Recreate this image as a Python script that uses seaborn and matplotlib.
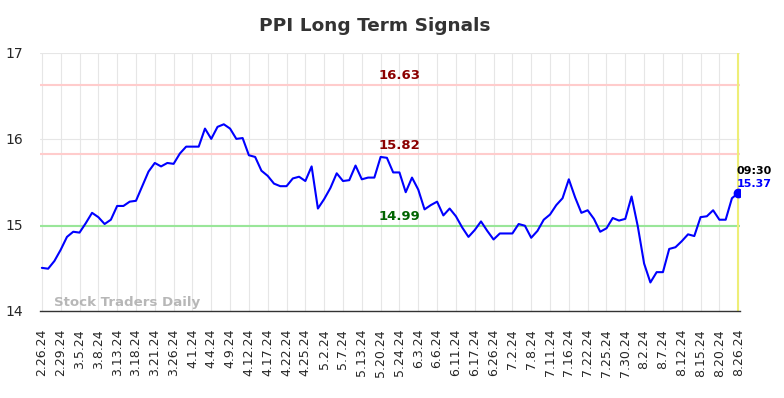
import matplotlib
matplotlib.use("Agg")
import matplotlib.pyplot as plt
import numpy as np
import pandas as pd
import seaborn as sns

# Price values, one per trading session
prices = [
    14.50, 14.49, 14.58, 14.71, 14.86, 14.92, 14.91, 15.02, 15.14, 15.09,
    15.01, 15.06, 15.22, 15.22, 15.27, 15.28, 15.45, 15.62, 15.72, 15.68,
    15.72, 15.71, 15.83, 15.91, 15.91, 15.91, 16.12, 16.00, 16.14, 16.17,
    16.12, 16.00, 16.01, 15.81, 15.79, 15.63, 15.57, 15.48, 15.45, 15.45,
    15.54, 15.56, 15.51, 15.68, 15.19, 15.30, 15.43, 15.60, 15.51, 15.52,
    15.69, 15.53, 15.55, 15.55, 15.79, 15.78, 15.61, 15.61, 15.38, 15.55,
    15.41, 15.18, 15.23, 15.27, 15.11, 15.19, 15.10, 14.97, 14.86, 14.94,
    15.04, 14.93, 14.83, 14.90, 14.90, 14.90, 15.01, 14.99, 14.85, 14.93,
    15.06, 15.12, 15.23, 15.31, 15.53, 15.32, 15.14, 15.17, 15.07, 14.92,
    14.96, 15.08, 15.05, 15.07, 15.33, 14.98, 14.55, 14.33, 14.45, 14.45,
    14.72, 14.74, 14.81, 14.89, 14.87, 15.09, 15.10, 15.17, 15.06, 15.06,
    15.31, 15.37,
]

# Tick labels, one every 3 sessions
tick_labels = [
    "2.26.24", "2.29.24", "3.5.24", "3.8.24", "3.13.24", "3.18.24", "3.21.24",
    "3.26.24", "4.1.24", "4.4.24", "4.9.24", "4.12.24", "4.17.24", "4.22.24",
    "4.25.24", "5.2.24", "5.7.24", "5.13.24", "5.20.24", "5.24.24", "6.3.24",
    "6.6.24", "6.11.24", "6.17.24", "6.26.24", "7.2.24", "7.8.24", "7.11.24",
    "7.16.24", "7.22.24", "7.25.24", "7.30.24", "8.2.24", "8.7.24", "8.12.24",
    "8.15.24", "8.20.24", "8.26.24",
]

resistance_levels = [16.63, 15.82]
support_levels = [14.99]
last_time = "09:30"

df = pd.DataFrame({"idx": np.arange(len(prices)), "price": prices})

sns.set_style("whitegrid", {"grid.color": "#e6e6e6"})
fig = plt.figure(figsize=(7.84, 3.98), dpi=100)
ax = fig.add_axes([0.051, 0.219, 0.893, 0.648])

for lvl in resistance_levels:
    ax.axhline(lvl, color="#ffcccc", linewidth=1.5, zorder=1)
for lvl in support_levels:
    ax.axhline(lvl, color="#99e699", linewidth=1.5, zorder=1)

last = len(prices) - 1
ax.axvline(last, color="#eeee77", linewidth=1.5, zorder=1)

sns.lineplot(data=df, x="idx", y="price", color="#0000ff", linewidth=1.5, ax=ax, zorder=3)
ax.plot(last, prices[-1], "o", color="#0000ff", markersize=6, zorder=4)

mid = len(prices) / 2 + 1
for lvl in resistance_levels:
    ax.text(mid, lvl + 0.03, f"{lvl:.2f}", color="#8b0000", fontsize=9.5,
            fontweight="bold", ha="center", va="bottom")
for lvl in support_levels:
    ax.text(mid, lvl + 0.03, f"{lvl:.2f}", color="#006400", fontsize=9.5,
            fontweight="bold", ha="center", va="bottom")

ax.text(last - 0.2, prices[-1] + 0.2, last_time, color="black", fontsize=8,
        fontweight="bold", ha="left", va="bottom")
ax.text(last - 0.2, prices[-1] + 0.05, f"{prices[-1]:.2f}", color="#0000ff",
        fontsize=8, fontweight="bold", ha="left", va="bottom")

ax.text(2, 14.02, "Stock Traders Daily", color="#b0b0b0", fontsize=9.6,
        fontweight="bold", ha="left", va="bottom", alpha=0.9)

ax.set_xlim(-0.3, last + 0.3)
ax.set_ylim(14, 17)
ax.set_yticks([14, 15, 16, 17])
ax.set_xticks(np.arange(0, len(prices), 3))
ax.set_xticklabels(tick_labels, rotation=90, fontsize=9)
ax.tick_params(axis="y", labelsize=10, length=0, pad=12)
ax.tick_params(axis="x", length=0, pad=13)
ax.set_xlabel("")
ax.set_ylabel("")

for side in ["left", "right", "top"]:
    ax.spines[side].set_visible(False)
ax.spines["bottom"].set_color("#333333")
ax.spines["bottom"].set_linewidth(1)

fig.text(0.478, 0.935, "PPI Long Term Signals", ha="center", va="center",
         fontsize=13.3, fontweight="bold", color="#333333")

fig.savefig("out.png", dpi=100)
